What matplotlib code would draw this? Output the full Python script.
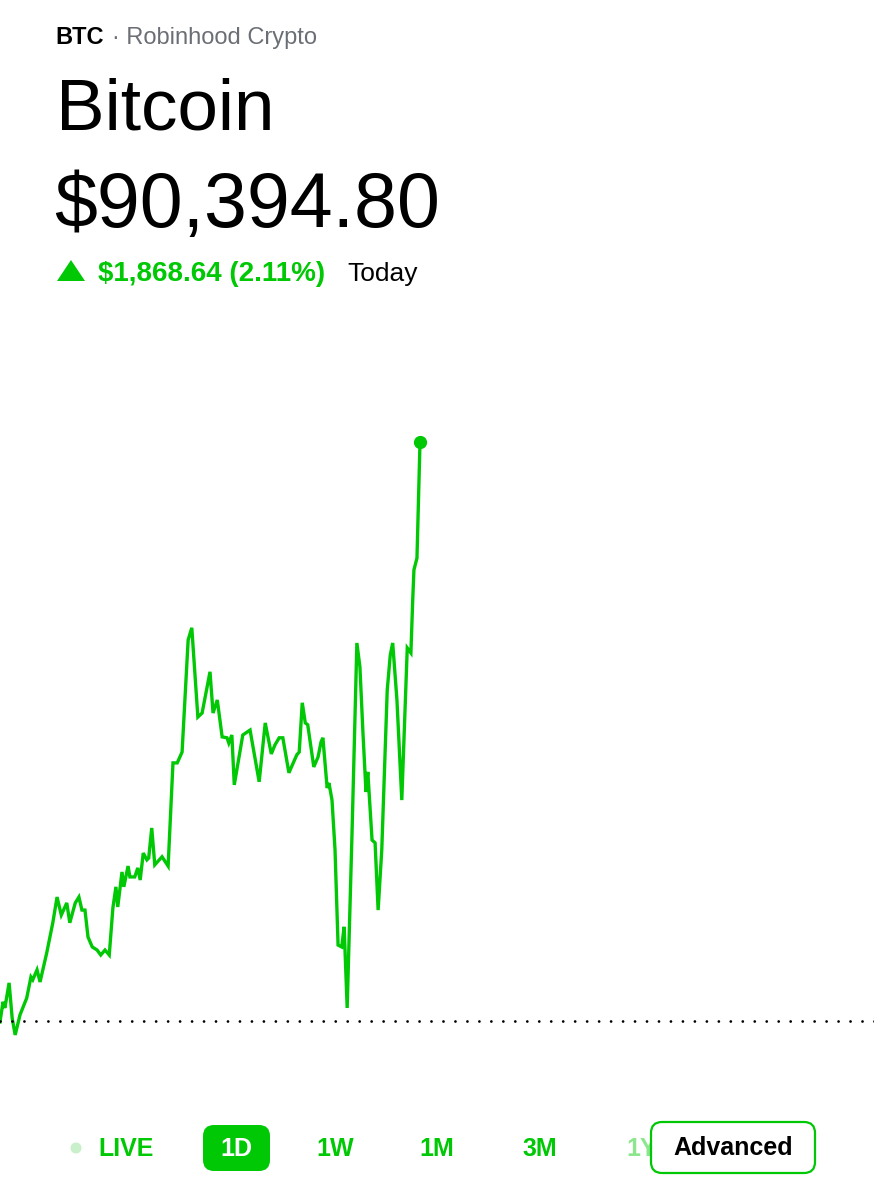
import matplotlib
matplotlib.use('Agg')
import matplotlib.pyplot as plt
from matplotlib.patches import FancyBboxPatch, Circle

plt.rcParams['font.family'] = ['Liberation Sans', 'DejaVu Sans']

GREEN = '#00C805'

# данные: минуты с начала суток и цена BTC
minutes = [0, 5, 8, 15, 20, 25, 33, 44, 51, 54,
           61, 66, 77, 87, 94, 101, 110, 115, 124, 130,
           135, 140, 145, 152, 160, 166, 173, 180, 186, 191,
           194, 201, 204, 211, 214, 222, 227, 231, 236, 242,
           245, 250, 255, 267, 277, 285, 292, 300, 310, 316,
           326, 333, 346, 351, 358, 366, 374, 377, 382, 386,
           400, 412, 427, 437, 447, 453, 460, 466, 476, 489,
           493, 498, 503, 507, 517, 524, 529, 532, 539, 542,
           547, 552, 557, 563, 567, 572, 580, 588, 593, 598,
           603, 606, 613, 618, 623, 629, 638, 643, 647, 654,
           662, 671, 677, 680, 682, 687, 692]
prices = [88523, 88588, 88568, 88649, 88536, 88481, 88546, 88600, 88668, 88659,
          88691, 88652, 88746, 88843, 88926, 88868, 88907, 88843, 88907, 88926,
          88884, 88884, 88797, 88765, 88755, 88739, 88755, 88739, 88891, 88959,
          88894, 89007, 88959, 89026, 88991, 88991, 89020, 88981, 89068, 89046,
          89052, 89149, 89030, 89056, 89026, 89359, 89359, 89394, 89756, 89795,
          89507, 89520, 89653, 89520, 89562, 89443, 89440, 89423, 89449, 89288,
          89449, 89465, 89298, 89488, 89388, 89417, 89440, 89440, 89327, 89385,
          89394, 89553, 89488, 89482, 89346, 89378, 89427, 89440, 89278, 89294,
          89239, 89078, 88771, 88765, 88830, 88568, 89133, 89746, 89669, 89456,
          89265, 89330, 89110, 89101, 88884, 89078, 89594, 89707, 89746, 89562,
          89239, 89730, 89714, 89885, 89982, 90020, 90394.80]

current_price = 90394.80
change = 1868.64
change_pct = 2.11
prev_close = current_price - change
periods = ['LIVE', '1D', '1W', '1M', '3M', '1Y']

fig = plt.figure(figsize=(8.74, 11.99), dpi=100)

# график цены
ax = fig.add_axes([0, 1 - 1100 / 1199, 1, 800 / 1199])
ax.plot(minutes, prices, color=GREEN, linewidth=2.4, solid_joinstyle='miter')
ax.plot(minutes[-1], prices[-1], 'o', color=GREEN, markersize=8.5)
ax.axhline(prev_close, color='black', linewidth=2.0,
           linestyle=(0, (0.01, 4.3)), dash_capstyle='round')
ax.set_xlim(0, 1440)
ax.set_ylim(88271, 90853)
ax.axis('off')

# слой для текста и кнопок в пикселях
ui = fig.add_axes([0, 0, 1, 1], zorder=-1)
ui.set_xlim(0, 874)
ui.set_ylim(1199, 0)
ui.axis('off')

ui.text(55, 44, 'BTC', fontsize=17, fontweight='bold', color='black', va='baseline')
ui.text(112, 44, '· Robinhood Crypto', fontsize=17, color='#6B6F75', va='baseline')
ui.text(56, 130, 'Bitcoin', fontsize=52.5, color='black', va='baseline')
ui.text(54, 227, f'${current_price:,.2f}', fontsize=55.5, color='black', va='baseline')

ui.fill([57, 71, 85], [281, 260, 281], color=GREEN, lw=0)
ui.text(98, 281, f'${change:,.2f} ({change_pct:.2f}%)', fontsize=20,
        fontweight='bold', color=GREEN, va='baseline')
ui.text(347, 281, 'Today', fontsize=19, color='black', va='baseline')

# кнопки периодов
ui.add_patch(Circle((76, 1148), 5.5, color='#C9EFCB', lw=0))
ui.add_patch(FancyBboxPatch((203, 1125), 67, 46, boxstyle='round,pad=0,rounding_size=11',
                            fc=GREEN, ec='none'))
xs = [126, 236, 335, 437, 540, 626]
for i, p in enumerate(periods):
    color = 'white' if p == '1D' else GREEN
    alpha = 0.45 if p == '1Y' else 1
    ha = 'left' if p == '1Y' else 'center'
    ui.text(xs[i], 1149, p, fontsize=18, fontweight='bold', color=color,
            alpha=alpha, ha=ha, va='center')

ui.add_patch(FancyBboxPatch((651, 1122), 164, 51, boxstyle='round,pad=0,rounding_size=11',
                            fc='white', ec=GREEN, lw=1.6, zorder=5))
ui.text(733, 1148, 'Advanced', fontsize=18, fontweight='bold', color='black',
        ha='center', va='center', zorder=6)

fig.savefig('out.png', dpi=100, facecolor='white')
